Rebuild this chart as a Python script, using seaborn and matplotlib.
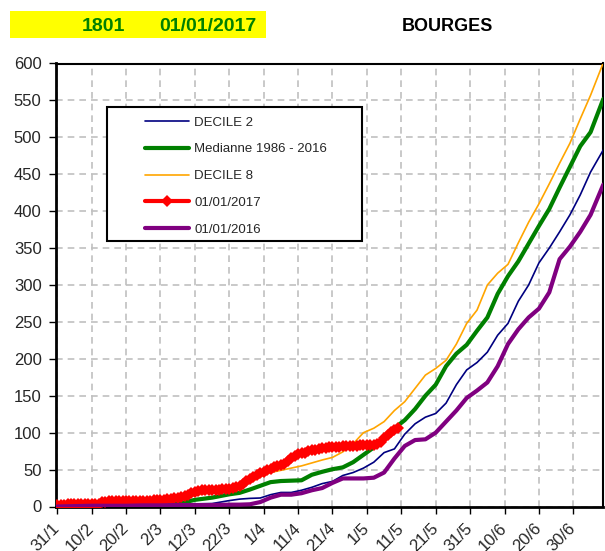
import numpy as np
import pandas as pd
import matplotlib
matplotlib.use("Agg")
import matplotlib.pyplot as plt
from matplotlib.patches import Rectangle
import seaborn as sns

# ---------------- data ----------------
tick_days = [0, 10, 20, 30, 40, 50, 60, 70, 80, 90, 100, 110, 120, 130, 140, 150]
tick_labels = ["31/1", "10/2", "20/2", "2/3", "12/3", "22/3", "1/4", "11/4", "21/4",
               "1/5", "11/5", "21/5", "31/5", "10/6", "20/6", "30/6"]

days = [0, 5, 10, 15, 20, 25, 30, 35, 40, 45, 50, 53, 56, 59, 62, 65, 68, 71, 74, 77,
        80, 83, 86, 89, 92, 95, 98, 101, 104, 107, 110, 113, 116, 119, 122, 125, 128,
        131, 134, 137, 140, 143, 146, 149, 152, 155, 158.7]

decile2 = [0.5, 1, 1, 1.5, 2, 2, 2.5, 3, 3.5, 4, 8, 10, 11, 11.5, 16, 19, 19, 22, 26, 31,
           34, 42, 46, 52, 60, 73, 78, 98, 112, 121, 126, 140, 165, 185, 195, 209, 232,
           248, 278, 300, 330, 350, 372, 395, 422, 453, 483]

mediane = [0.5, 1, 1.5, 2, 2, 2.5, 3, 3.5, 9, 12, 16.5, 18.5, 23, 28, 33, 34.5, 35, 35.5,
           43, 47, 50.5, 53, 60, 70, 80, 93, 106, 117, 132, 150, 165, 190, 207, 219, 238,
           256, 288, 312, 332, 356, 380, 403, 432, 460, 488, 507, 552]

decile8 = [0.5, 1, 2, 4, 5, 6, 7, 8, 15, 19, 22, 26, 32, 40, 46, 49, 52, 55, 59, 63,
           66.5, 74, 85, 100, 106, 115, 130, 142, 160, 178, 187, 198, 220, 248, 266, 300,
           316, 328, 357, 385, 410, 437, 465, 492, 525, 557, 601]

y2016 = [0, 0.5, 1, 1, 1, 1.5, 1.5, 2, 2, 2, 2.5, 2.5, 3, 6, 12, 16, 16, 18, 22, 25,
         32, 38, 38, 38, 39, 46, 65, 82, 90, 91, 100, 115, 130, 147, 157, 168, 190,
         220, 240, 256, 268, 290, 335, 352, 372, 395, 436]

y2017 = [2, 2, 2, 3, 3, 3, 3, 3, 3, 3, 3, 4, 4,
         6, 6, 7, 7, 7, 7, 7, 7, 8, 8, 8, 8, 8, 8, 8, 9, 9,
         9, 9, 10, 10, 11, 12, 13,
         14, 16, 18, 20, 21,
         22, 22, 23, 23, 23, 23, 24, 24, 24, 25,
         26, 28, 31, 34, 37, 40,
         43, 45, 47, 49, 51,
         53, 55, 56, 58,
         62, 66, 69, 71,
         72, 73, 75, 76, 77, 78,
         79, 79, 80, 80, 81, 81, 82,
         82, 82, 82, 82, 83, 83, 83, 83, 83,
         85, 88, 93, 97, 101, 104, 106]
days2017 = list(range(len(y2017)))

# ---------------- style ----------------
sns.set_theme(style="white")
plt.rcParams["font.family"] = ["Liberation Sans", "DejaVu Sans"]

fig = plt.figure(figsize=(6.05, 5.51), dpi=100)
ax = fig.add_axes([55.5 / 605, 44.5 / 551, (603.3 - 55.5) / 605, (506.5 - 63.5) / 551])

df = pd.DataFrame({"day": days, "d2": decile2, "med": mediane, "d8": decile8, "y16": y2016})
df17 = pd.DataFrame({"day": days2017, "y17": y2017})

sns.lineplot(data=df, x="day", y="d2", ax=ax, color="#000080", lw=1.2, label="DECILE 2", zorder=3)
sns.lineplot(data=df, x="day", y="med", ax=ax, color="#008000", lw=3, label="Medianne 1986 - 2016", zorder=3)
sns.lineplot(data=df, x="day", y="d8", ax=ax, color="#FFA500", lw=1.2, label="DECILE 8", zorder=3)
sns.lineplot(data=df17, x="day", y="y17", ax=ax, color="#FF0000", lw=3, marker="D",
             markersize=6.5, markeredgewidth=0, label="01/01/2017", zorder=4)
sns.lineplot(data=df, x="day", y="y16", ax=ax, color="#800080", lw=3, label="01/01/2016", zorder=4)

ax.set_xlim(-0.5, 158.7)
ax.set_ylim(0, 600)
ax.set_yticks(np.arange(0, 601, 50))
ax.set_xticks(tick_days)
ax.set_xticklabels(tick_labels, rotation=45, ha="right", va="center", rotation_mode="anchor")
ax.set_xlabel("")
ax.set_ylabel("")
ax.tick_params(axis="y", direction="out", length=5, width=1, color="black", labelsize=12, pad=5, left=True)
ax.tick_params(axis="x", direction="out", length=5, width=1, color="black", labelsize=12, pad=9, bottom=True)

ax.grid(True, color="#c0c0c0", linestyle=(0, (4, 3)), lw=1.2, zorder=0)
ax.set_axisbelow(True)
for s in ["left", "bottom"]:
    ax.spines[s].set_color("black")
    ax.spines[s].set_linewidth(2)
for s in ["top", "right"]:
    ax.spines[s].set_color("black")
    ax.spines[s].set_linewidth(1.5)

# legend box
x0 = (107 - 55.5) / 547.8
x1 = (362 - 55.5) / 547.8
yt = (506.5 - 107) / 443
yb = (506.5 - 241) / 443
ax.add_patch(Rectangle((x0, yb), x1 - x0, yt - yb, transform=ax.transAxes,
                       facecolor="white", edgecolor="black", lw=1.5, zorder=5))
leg = ax.legend(loc="upper left", bbox_to_anchor=((145 - 55.5) / 547.8, (506.5 - 116.5) / 443),
                frameon=False, fontsize=9.5, handlelength=3.3, handletextpad=0.45,
                labelspacing=1.1, borderpad=0, borderaxespad=0)
leg.set_zorder(6)

# titles
fig.patches.append(Rectangle((10 / 605, 1 - 37.7 / 551), 255.7 / 605, 26.7 / 551,
                             transform=fig.transFigure, facecolor="#FFFF00", edgecolor="none"))
fig.text(103 / 605, 1 - 26.7 / 551, "1801", color="#008000", fontsize=14,
         fontweight="bold", ha="center", va="center")
fig.text(207.5 / 605, 1 - 26.7 / 551, "01/01/2017", color="#008000", fontsize=14,
         fontweight="bold", ha="center", va="center")
fig.text(447.5 / 605, 1 - 26.7 / 551, "BOURGES", color="black", fontsize=13,
         fontweight="bold", ha="center", va="center")

fig.savefig("out.png", dpi=100)
